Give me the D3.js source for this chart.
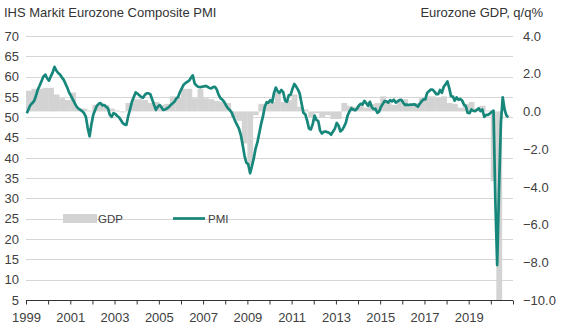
<!DOCTYPE html>
<html>
<head>
<meta charset="utf-8">
<script src="https://cdn.jsdelivr.net/npm/d3@7"></script>
<style>
  body { margin: 0; background: #fff; }
  svg { display: block; font-family: "Liberation Sans", Arial, sans-serif; }
</style>
</head>
<body>
<div id="container"></div>
<script>
let width = 575;
let height = 333;

// PMI, monthly, first value = Jan 1999
var pmiStart = [1999, 0];
var pmi = [
  51.0, 52.1, 53.0, 53.5, 54.0, 55.3, 56.8, 57.8, 58.9, 60.0, 60.5, 59.6, // 1999
  59.0, 60.1, 61.0, 62.4, 61.5, 60.9, 60.5, 59.8, 59.2, 58.2, 57.2, 56.0, // 2000
  55.2, 54.3, 53.5, 52.6, 52.1, 51.8, 51.5, 51.0, 50.1, 47.4, 45.3, 48.2, // 2001
  50.6, 51.8, 52.8, 53.3, 53.5, 52.9, 53.0, 52.6, 52.2, 50.6, 50.1, 51.0, // 2002
  50.8, 50.3, 50.0, 49.3, 48.6, 48.2, 48.1, 50.3, 52.0, 53.8, 55.0, 56.1, // 2003
  55.8, 55.4, 55.0, 54.8, 55.5, 55.9, 55.9, 55.6, 54.3, 53.0, 51.8, 52.6, // 2004
  53.0, 52.4, 51.8, 51.9, 52.2, 52.5, 53.0, 53.4, 53.8, 54.6, 55.0, 56.2, // 2005
  57.1, 58.0, 58.4, 58.7, 59.0, 59.7, 60.3, 58.3, 57.8, 57.5, 57.4, 57.5, // 2006
  57.6, 57.7, 57.5, 57.2, 57.1, 57.4, 57.5, 56.8, 55.5, 54.7, 54.3, 53.8, // 2007
  52.9, 52.2, 51.8, 51.2, 50.1, 49.0, 48.1, 47.2, 45.6, 43.2, 40.5, 38.8, // 2008
  38.4, 36.2, 37.8, 39.8, 42.2, 43.8, 46.0, 48.3, 50.2, 52.6, 53.7, 53.6, // 2009
  54.2, 53.7, 55.9, 57.3, 56.4, 56.0, 56.7, 56.2, 54.1, 53.8, 55.4, 55.5, // 2010
  57.0, 58.2, 57.6, 56.8, 55.8, 53.3, 51.1, 50.7, 49.1, 47.2, 47.0, 48.3, // 2011
  50.4, 49.3, 49.1, 46.7, 46.0, 46.4, 46.5, 46.3, 46.1, 45.7, 46.5, 47.2, // 2012
  48.6, 47.9, 46.5, 46.9, 47.7, 48.7, 50.5, 51.5, 52.2, 51.9, 51.7, 52.1, // 2013
  52.9, 53.3, 53.1, 54.0, 53.5, 52.8, 53.8, 52.5, 52.0, 52.1, 51.1, 51.4, // 2014
  52.6, 53.3, 54.0, 53.9, 53.6, 54.2, 53.9, 54.3, 53.6, 53.9, 54.2, 54.3, // 2015
  53.6, 53.0, 53.1, 53.0, 53.1, 53.1, 53.2, 52.9, 52.6, 53.3, 53.9, 54.4, // 2016
  54.4, 56.0, 56.4, 56.8, 56.8, 56.3, 55.7, 55.7, 56.7, 56.0, 57.5, 58.1, // 2017
  58.8, 57.1, 55.2, 55.1, 54.1, 54.9, 54.3, 54.5, 54.1, 53.1, 52.7, 51.1, // 2018
  51.0, 51.9, 51.6, 51.5, 51.8, 52.2, 51.5, 51.9, 50.1, 50.6, 50.6, 50.9, // 2019
  51.3, 51.6, 29.7, 13.6, 31.9, 48.5, 54.9, 51.9, 50.4, 50.0              // 2020
];

// GDP q/q %, quarterly, first value = 1999 Q1
var gdpStart = 1999;
var gdp = [
  1.1, 1.2, 1.2, 1.25,
  1.25, 0.9, 0.7, 0.6,
  1.0, 0.15, 0.15, 0.05,
  0.35, 0.45, 0.35, 0.15,
  0.05, -0.05, 0.45, 0.65,
  0.65, 0.6, 0.45, 0.5,
  0.35, 0.4, 0.8, 0.75,
  1.2, 1.2, 0.7, 1.2,
  0.7, 0.65, 0.55, 0.5,
  0.45, -0.3, -0.5, -1.7,
  -2.9, -0.2, 0.4, 0.4,
  0.5, 1.0, 0.5, 0.6,
  0.9, 0.25, 0.1, -0.3,
  -0.1, -0.3, -0.2, -0.4,
  -0.4, 0.45, 0.3, 0.25,
  0.35, 0.2, 0.4, 0.45,
  0.8, 0.45, 0.35, 0.55,
  0.65, 0.35, 0.45, 0.7,
  0.8, 0.8, 0.75, 0.8,
  0.45, 0.4, 0.2, 0.4,
  0.5, 0.15, 0.3, 0.05,
  -3.7, -11.8
];

var leftTicks = [5, 10, 15, 20, 25, 30, 35, 40, 45, 50, 55, 60, 65, 70];
var rightTicks = [-10, -8, -6, -4, -2, 0, 2, 4];
var yearTicks = d3.range(1999, 2022);
var yearLabels = d3.range(1999, 2021, 2);

var titleLeft = "IHS Markit Eurozone Composite PMI";
var titleRight = "Eurozone GDP, q/q%";
var legendItems = ["GDP", "PMI"];

var teal = "#17877b";
var barGrey = "#d3d3d3";
var textCol = "#404040";

var margin = {left: 26, right: 513, top: 36, bottom: 300};

let viz = d3.select("#container").append("svg")
  .attr("width", width)
  .attr("height", height);

let x = d3.scaleTime()
  .domain([new Date(1999, 0, 1), new Date(2021, 0, 1)])
  .range([margin.left, margin.right]);

let yL = d3.scaleLinear().domain([5, 70]).range([margin.bottom, margin.top]);
let yR = d3.scaleLinear().domain([-10, 4]).range([margin.bottom, margin.top]).clamp(true);

let pmiData = pmi.map(function(v, i){
  return {date: new Date(pmiStart[0], pmiStart[1] + i, 15), value: v};
});
let gdpData = gdp.map(function(v, i){
  return {start: new Date(gdpStart, i * 3, 1), end: new Date(gdpStart, i * 3 + 3, 1), value: v};
});

// gridlines
viz.append("g")
  .selectAll("line")
  .data(leftTicks.filter(function(d){ return d > 5; }))
  .enter().append("line")
  .attr("x1", margin.left)
  .attr("x2", margin.right)
  .attr("y1", function(d){ return Math.round(yL(d)) + 0.5; })
  .attr("y2", function(d){ return Math.round(yL(d)) + 0.5; })
  .attr("stroke", "#d6d6d6")
  .attr("stroke-width", 1);

// gdp bars
viz.append("g")
  .selectAll("rect")
  .data(gdpData)
  .enter().append("rect")
  .attr("x", function(d){ return x(d.start); })
  .attr("width", function(d){ return x(d.end) - x(d.start) + 0.3; })
  .attr("y", function(d){ return Math.min(yR(d.value), yR(0)); })
  .attr("height", function(d){ return Math.abs(yR(d.value) - yR(0)); })
  .attr("fill", barGrey);

// pmi line
let line = d3.line()
  .x(function(d){ return x(d.date); })
  .y(function(d){ return yL(d.value); });

viz.append("path")
  .datum(pmiData)
  .attr("d", line)
  .attr("fill", "none")
  .attr("stroke", teal)
  .attr("stroke-width", 2.7)
  .attr("stroke-linejoin", "round");

// x axis
let xAxis = d3.axisBottom(x)
  .tickValues(yearTicks.map(function(y){ return new Date(y, 0, 1); }))
  .tickSize(4)
  .tickFormat(function(d){
    return yearLabels.indexOf(d.getFullYear()) >= 0 ? d.getFullYear() : "";
  });

let gx = viz.append("g")
  .attr("transform", "translate(0," + (margin.bottom + 0.5) + ")")
  .call(xAxis);
gx.select(".domain").attr("stroke", "#333").attr("d", "M" + margin.left + ",0H" + margin.right);
gx.selectAll(".tick line").attr("stroke", "#333");
gx.selectAll(".tick text")
  .attr("fill", textCol)
  .attr("font-size", 13)
  .attr("font-family", "'Liberation Sans', Arial, sans-serif")
  .attr("dy", "1.1em");

// left labels
viz.append("g")
  .selectAll("text")
  .data(leftTicks)
  .enter().append("text")
  .attr("x", 19)
  .attr("y", function(d){ return yL(d); })
  .attr("dy", "0.36em")
  .attr("text-anchor", "end")
  .attr("font-size", 13)
  .attr("fill", textCol)
  .text(function(d){ return d; });

// right labels
viz.append("g")
  .selectAll("text")
  .data(rightTicks)
  .enter().append("text")
  .attr("x", 523)
  .attr("y", function(d){ return yR(d); })
  .attr("dy", "0.36em")
  .attr("font-size", 13)
  .attr("fill", textCol)
  .text(function(d){ return d3.format(".1f")(d); });

// titles
viz.append("text")
  .attr("x", 4)
  .attr("y", 17)
  .attr("font-size", 13)
  .attr("fill", "#333")
  .text(titleLeft);

viz.append("text")
  .attr("x", 543)
  .attr("y", 17)
  .attr("text-anchor", "end")
  .attr("font-size", 13)
  .attr("fill", "#333")
  .text(titleRight);

// legend
let legend = viz.append("g");
legend.append("rect")
  .attr("x", 63).attr("y", 214)
  .attr("width", 34).attr("height", 9)
  .attr("fill", barGrey);
legend.append("text")
  .attr("x", 98).attr("y", 222.5)
  .attr("font-size", 11.5)
  .attr("fill", textCol)
  .text(legendItems[0]);
legend.append("line")
  .attr("x1", 173).attr("x2", 205)
  .attr("y1", 218.5).attr("y2", 218.5)
  .attr("stroke", teal)
  .attr("stroke-width", 2.7);
legend.append("text")
  .attr("x", 208).attr("y", 222.5)
  .attr("font-size", 11.5)
  .attr("fill", textCol)
  .text(legendItems[1]);
</script>
</body>
</html>
